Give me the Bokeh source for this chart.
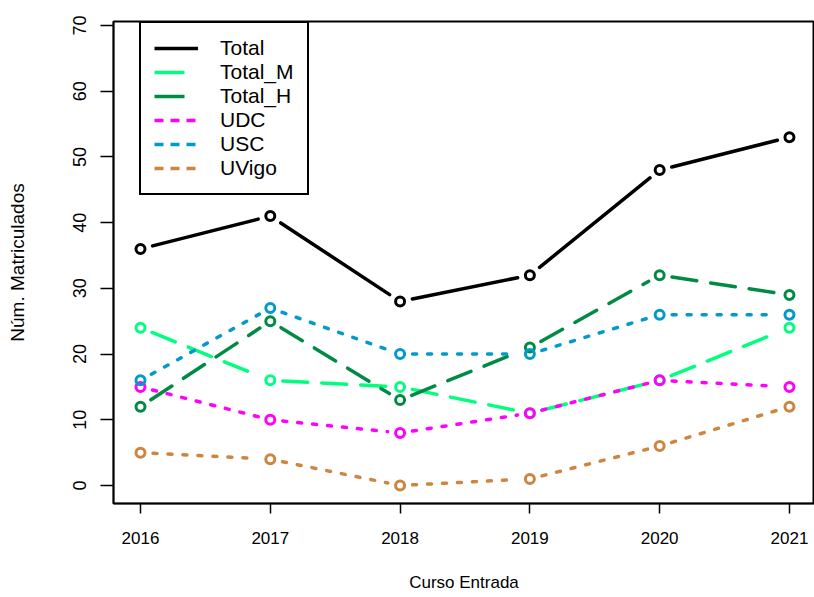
import math
from bokeh.plotting import figure
from bokeh.models import ColumnDataSource, Legend, LegendItem, FixedTicker, Range1d
from bokeh.embed import file_html
from bokeh.resources import INLINE

# ---- data ----
years = [2016, 2017, 2018, 2019, 2020, 2021]
total = [36, 41, 28, 32, 48, 53]
total_m = [24, 16, 15, 11, 16, 24]
total_h = [12, 25, 13, 21, 32, 29]
udc = [15, 10, 8, 11, 16, 15]
usc = [16, 27, 20, 20, 26, 26]
uvigo = [5, 4, 0, 1, 6, 12]
y_ticks = [0, 10, 20, 30, 40, 50, 60, 70]
series_names = ["Total", "Total_M", "Total_H", "UDC", "USC", "UVigo"]
series_values = [total, total_m, total_h, udc, usc, uvigo]

# ---- style ----
colors = ["#000000", "#00FF7F", "#008B45", "#FF00FF", "#009ACD", "#CD853F"]
dashes = ["solid", "25 14", "25 14", "4 11", "4 11", "4 11"]
legend_dashes = ["solid", "30 100", "30 100", "9 7", "9 7", "9 7"]
FONT = "Liberation Sans"

W, H = 814, 597
B_LEFT, B_TOP, B_BOTTOM, B_RIGHT = 113, 21, 94, 0
FW = W - B_LEFT - B_RIGHT
FH = H - B_TOP - B_BOTTOM
x0, x1 = 2015.792, 2021.193
y0, y1 = -2.74, 70.61
sx = FW / (x1 - x0)
sy = FH / (y1 - y0)
GAP = 12.5  # px gap between line and point (R type="b")

p = figure(width=W, height=H, output_backend="svg", toolbar_location=None,
           x_range=Range1d(x0, x1), y_range=Range1d(y0, y1),
           min_border_left=B_LEFT, min_border_top=B_TOP,
           min_border_bottom=B_BOTTOM, min_border_right=B_RIGHT)
p.xgrid.visible = False
p.ygrid.visible = False
p.outline_line_color = "black"
p.outline_line_width = 2
p.background_fill_color = "white"
p.border_fill_color = "white"

def shortened_segments(xs, ys):
    sxs, sys_ = [], []
    for i in range(len(xs) - 1):
        dx, dy = xs[i + 1] - xs[i], ys[i + 1] - ys[i]
        L = math.hypot(dx * sx, dy * sy)
        if L <= 2 * GAP:
            continue
        f = GAP / L
        sxs.append([xs[i] + dx * f, xs[i + 1] - dx * f])
        sys_.append([ys[i] + dy * f, ys[i + 1] - dy * f])
    return sxs, sys_

nan = float("nan")
items = []
for name, vals, col, dash, ldash in zip(series_names, series_values, colors, dashes, legend_dashes):
    mx, my = shortened_segments(years, vals)
    p.multi_line(xs=mx, ys=my, line_color=col, line_width=3.5, line_dash=dash,
                 line_cap="round", line_join="round")
    p.scatter(x=years, y=vals, marker="circle", size=9, line_color=col,
              line_width=3, fill_color=None)
    lr = p.line(x=[nan, nan], y=[nan, nan], line_color=col, line_width=3.5,
                line_dash=ldash)
    items.append(LegendItem(label=name, renderers=[lr]))

legend = Legend(items=items, location=(26, 308), padding=13, spacing=0,
                label_height=22, glyph_height=22, glyph_width=44,
                label_standoff=22, margin=0,
                label_text_font=FONT, label_text_font_size="21px",
                label_text_color="black",
                border_line_color="black", border_line_width=2, border_line_alpha=1.0,
                background_fill_color="white", background_fill_alpha=1.0)
p.add_layout(legend, "center")

# x axis
p.xaxis.ticker = FixedTicker(ticks=years)
p.xaxis.axis_label = "Curso Entrada"
p.xaxis.major_tick_out = 10
p.xaxis.major_tick_in = 0
p.xaxis.minor_tick_out = 0
p.xaxis.minor_tick_in = 0
p.xaxis.major_label_standoff = 18
p.xaxis.axis_label_standoff = 26
p.xaxis.major_label_text_font = FONT
p.xaxis.major_label_text_font_size = "17px"
p.xaxis.axis_label_text_font = FONT
p.xaxis.axis_label_text_font_size = "17px"
p.xaxis.axis_label_text_font_style = "normal"

# y axis
p.yaxis.ticker = FixedTicker(ticks=y_ticks)
p.yaxis.axis_label = "Núm. Matriculados"
p.yaxis.major_label_orientation = "vertical"
p.yaxis.major_tick_out = 13
p.yaxis.major_tick_in = 0
p.yaxis.minor_tick_out = 0
p.yaxis.minor_tick_in = 0
p.yaxis.major_label_standoff = 14
p.yaxis.axis_label_standoff = 43
p.yaxis.major_label_text_font = FONT
p.yaxis.major_label_text_font_size = "18px"
p.yaxis.axis_label_text_font = FONT
p.yaxis.axis_label_text_font_size = "19px"
p.yaxis.axis_label_text_font_style = "normal"

for ax in (p.xaxis, p.yaxis):
    ax.axis_line_color = "black"
    ax.axis_line_width = 1.5
    ax.major_tick_line_color = "black"
    ax.major_tick_line_width = 1.5
    ax.major_label_text_color = "black"
    ax.axis_label_text_color = "black"

open("out.html", "w").write(file_html(p, INLINE))
